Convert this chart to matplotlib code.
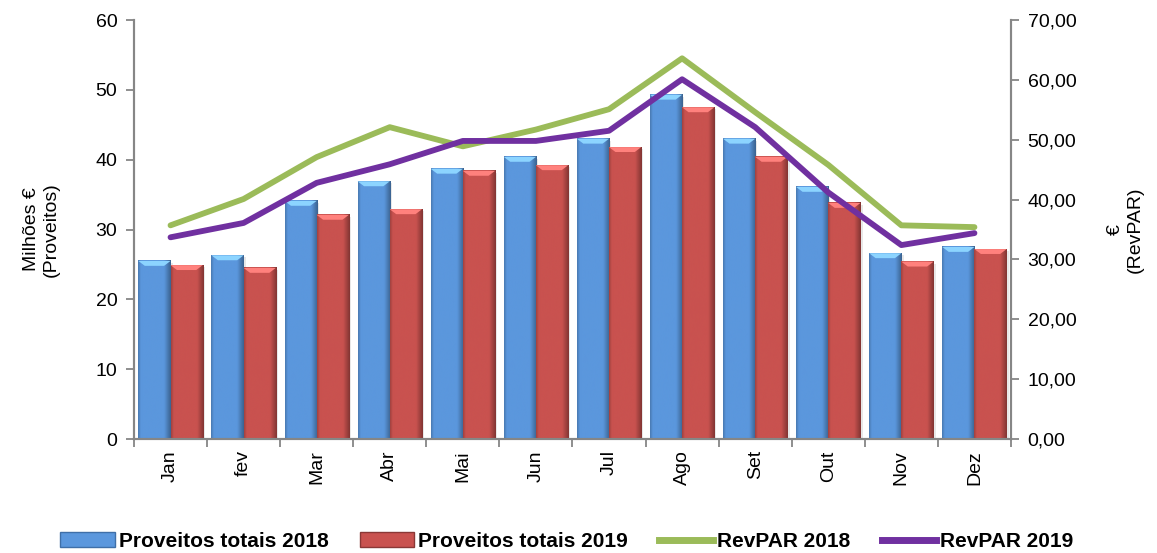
import numpy as np
import matplotlib
matplotlib.use("Agg")
from matplotlib import pyplot as plt
from matplotlib.patches import Patch
from matplotlib.lines import Line2D
from matplotlib.colors import LinearSegmentedColormap

plt.rcParams['font.family'] = ['Liberation Sans', 'DejaVu Sans']

meses = ["Jan", "fev", "Mar", "Abr", "Mai", "Jun", "Jul", "Ago", "Set", "Out", "Nov", "Dez"]
proveitos_2018 = [25.5, 26.3, 34.1, 36.9, 38.7, 40.4, 43.0, 49.3, 43.0, 36.1, 26.6, 27.5]
proveitos_2019 = [24.9, 24.5, 32.1, 32.9, 38.4, 39.2, 41.8, 47.5, 40.4, 33.8, 25.4, 27.2]
revpar_2018 = [35.7, 40.1, 47.1, 52.1, 48.9, 51.7, 55.1, 63.6, 54.6, 45.8, 35.7, 35.4]
revpar_2019 = [33.7, 36.1, 42.8, 45.9, 49.8, 49.8, 51.5, 60.1, 52.1, 41.2, 32.4, 34.4]

azul = "#5b97dd"
vermelho = "#c9524f"
verde = "#9bbb59"
roxo = "#7030a0"
cinza = "#868686"

fig = plt.figure(figsize=(11.57, 5.53), dpi=100)
ax = fig.add_axes([0.1158, 0.2061, 0.7580, 0.7577])
ax2 = ax.twinx()

x = np.arange(len(meses))
w = 0.44


def barra(x0, h, cor):
    # gradiente horizontal para imitar o efeito 3D do excel
    c = np.array(matplotlib.colors.to_rgb(cor))
    escuro = c * 0.65
    cmap = LinearSegmentedColormap.from_list(
        "g", [(0, c * 0.8), (0.08, c), (0.8, c), (1, escuro)])
    grad = np.linspace(0, 1, 64).reshape(1, -1)
    ax.imshow(grad, cmap=cmap, aspect='auto', extent=[x0, x0 + w, 0, h],
              zorder=2, interpolation='bicubic')
    # topo chanfrado
    topo = 0.7
    tc = np.clip(c * 1.2 + 0.12, 0, 1)
    ax.fill([x0, x0 + w, x0 + w * 0.8, x0 + w * 0.2], [h, h, h - topo, h - topo],
            color=tc, zorder=3, lw=0)
    # sombra
    ax.fill_between([x0 + w, x0 + w + 0.03], 0, h - 0.3, color="#d9d9d9", alpha=0.6,
                    zorder=1, lw=0)


for i in range(len(meses)):
    barra(x[i] - w, proveitos_2018[i], azul)
    barra(x[i], proveitos_2019[i], vermelho)

ax2.plot(x, revpar_2018, color=verde, lw=4.2, solid_capstyle='round', zorder=5)
ax2.plot(x, revpar_2019, color=roxo, lw=4.2, solid_capstyle='round', zorder=5)

ax.set_xlim(-0.5, 11.5)
ax.set_ylim(0, 60)
ax2.set_ylim(0, 70)
ax.set_yticks(np.arange(0, 61, 10))
ax2.set_yticks(np.arange(0, 71, 10))
ax2.set_yticklabels([f"{v:.2f}".replace(".", ",") for v in np.arange(0, 71, 10)])

ax.set_xticks(np.arange(-0.5, 12, 1))
ax.set_xticklabels([])
ax.set_xticks(x, minor=True)
ax.set_xticklabels(meses, minor=True, rotation=90, fontsize=14)
ax.tick_params(axis='x', which='minor', length=0, pad=8)
ax.tick_params(axis='x', which='major', length=6, color=cinza, width=1.3)

ax.tick_params(axis='y', labelsize=14, length=6, color=cinza, width=1.3, pad=6)
ax2.tick_params(axis='y', labelsize=14, length=6, color=cinza, width=1.3, pad=6)

for a in (ax, ax2):
    a.spines['top'].set_visible(False)
    for s in ('left', 'right', 'bottom'):
        a.spines[s].set_color(cinza)
        a.spines[s].set_linewidth(1.5)

ax.set_ylabel("Milhões €\n(Proveitos)", fontsize=14, labelpad=26)
ax2.set_ylabel("€\n(RevPAR)", fontsize=14, labelpad=22)

handles = [Patch(facecolor=azul, edgecolor="#3f6fa8"),
           Patch(facecolor=vermelho, edgecolor="#8a3836"),
           Line2D([], [], color=verde, lw=5),
           Line2D([], [], color=roxo, lw=5)]
labels = ["Proveitos totais 2018", "Proveitos totais 2019", "RevPAR 2018", "RevPAR 2019"]
fig.legend(handles, labels, loc='lower center', bbox_to_anchor=(0.49, -0.03), ncol=4,
           frameon=False, prop={'size': 15, 'weight': 'bold'}, handlelength=2.6,
           handletextpad=0.2, columnspacing=1.5)

fig.savefig("out.png", dpi=100)
